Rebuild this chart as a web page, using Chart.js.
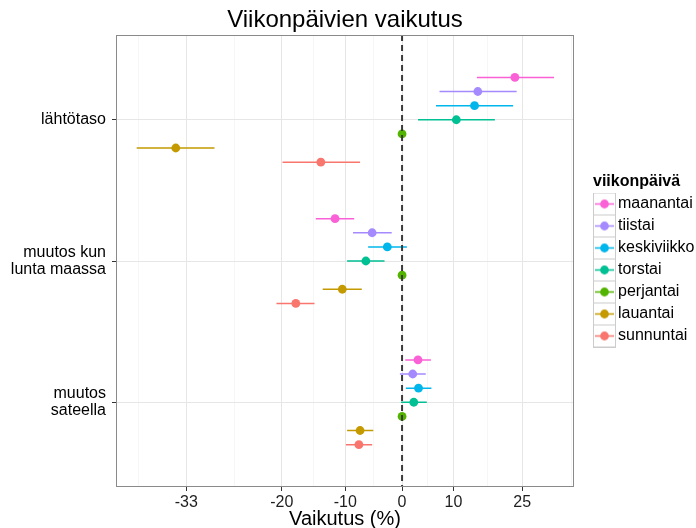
<!DOCTYPE html>
<html><head><meta charset="utf-8">
<script src="https://cdn.jsdelivr.net/npm/chart.js@4.4.1/dist/chart.umd.min.js"></script>
<style>html,body{margin:0;padding:0;background:#fff}#wrap{width:696px;height:528px}</style>
</head><body><div id="wrap"><canvas id="c" width="696" height="528"></canvas></div>
<script>
// ---- data (effects in %) ----
const days = ['maanantai','tiistai','keskiviikko','torstai','perjantai','lauantai','sunnuntai'];
const dayColors = ['#FB61D7','#A58AFF','#00B6EB','#00C094','#53B400','#C49A00','#F8766D'];
const groupLabels = [['lähtötaso'], ['muutos kun','lunta maassa'], ['muutos','sateella']];

const estLahtotaso = [23.3, 15.1, 14.4, 10.6, 0, -34.3, -14.0];
const loLahtotaso  = [14.9, 7.2, 6.5, 3.0, null, -38.9, -19.9];
const hiLahtotaso  = [32.6, 23.7, 22.9, 18.8, null, -29.4, -7.5];

const estLunta = [-11.7, -5.4, -2.7, -6.5, 0, -10.5, -17.9];
const loLunta  = [-14.8, -8.7, -6.1, -9.7, null, -13.7, -20.8];
const hiLunta  = [-8.5, -1.9, 0.9, -3.2, null, -7.2, -15.0];

const estSade = [3.0, 2.0, 3.1, 2.2, 0, -7.5, -7.7];
const loSade  = [0.6, -0.4, 0.7, -0.2, null, -9.7, -9.9];
const hiSade  = [5.5, 4.5, 5.6, 4.7, null, -5.2, -5.4];

const xTickLabels = [-33, -20, -10, 0, 10, 25];
const xBreaksExtended = [-44, -33, -20, -10, 0, 10, 25, 50];
const xLimits = [-41.2, 37.6];

// ---- build ----
const FONT = "'Liberation Sans', Arial, Helvetica, sans-serif";
Chart.defaults.font.family = FONT;
const lr = p => Math.log1p(p / 100);
const est = [estLahtotaso, estLunta, estSade];
const lo = [loLahtotaso, loLunta, loSade];
const hi = [hiLahtotaso, hiLunta, hiSade];
const majorLn = xTickLabels.map(lr);
const extLn = xBreaksExtended.map(lr);
const minorLn = [];
for (let i = 0; i < extLn.length - 1; i++) minorLn.push((extLn[i] + extLn[i + 1]) / 2);
const allXTicks = majorLn.concat(minorLn).sort((a, b) => a - b);
const isMajor = v => majorLn.some(m => Math.abs(m - v) < 1e-9);
const yPos = (g, i) => g + 1 + (i - 3) * 0.1;

const pointSets = days.map((d, i) => ({
  type: 'scatter', label: d, order: 1, yAxisID: 'y', xAxisID: 'x',
  data: est.map((arr, g) => ({ x: lr(arr[i]), y: yPos(g, i) })),
  backgroundColor: dayColors[i], borderColor: dayColors[i], borderWidth: 0,
  pointRadius: 4.4, pointHoverRadius: 4.4, showLine: false
}));
const barSets = days.map((d, i) => {
  const data = [];
  lo.forEach((arr, g) => {
    if (arr[i] == null) return;
    const y = yPos(g, i);
    data.push({ x: lr(arr[i]), y }, { x: lr(hi[g][i]), y }, { x: null, y: null });
  });
  return {
    type: 'scatter', label: d + ' CI', order: 2, yAxisID: 'y', xAxisID: 'x',
    data, showLine: true, spanGaps: false, borderColor: dayColors[i], borderWidth: 1.5,
    pointRadius: 0, pointHoverRadius: 0, fill: false
  };
});
const vline = {
  type: 'scatter', label: 'zero', order: 0, yAxisID: 'y', xAxisID: 'x',
  data: [{ x: 0, y: 0.4 }, { x: 0, y: 3.6 }], showLine: true,
  borderColor: '#3a3a3a', borderWidth: 2, borderDash: [6, 4], pointRadius: 0, pointHoverRadius: 0
};

function keyCanvas(color) {
  const c = document.createElement('canvas');
  c.width = 23; c.height = 23;
  const k = c.getContext('2d');
  k.fillStyle = '#ffffff'; k.fillRect(0, 0, 23, 23);
  k.strokeStyle = '#cccccc'; k.lineWidth = 1; k.strokeRect(0.5, 0.5, 22, 22);
  k.strokeStyle = color; k.lineWidth = 1.5;
  k.beginPath(); k.moveTo(2, 11.5); k.lineTo(21, 11.5); k.stroke();
  k.fillStyle = color; k.beginPath(); k.arc(11.5, 11.5, 4.4, 0, Math.PI * 2); k.fill();
  return c;
}
const keys = dayColors.map(keyCanvas);

const panelBorder = {
  id: 'panelBorder',
  afterDatasetsDraw(chart) {
    const { ctx, chartArea: a } = chart;
    ctx.save();
    ctx.strokeStyle = '#8a8a8a'; ctx.lineWidth = 1;
    const l = Math.round(a.left), t = Math.round(a.top), r = Math.round(a.right), b = Math.round(a.bottom);
    ctx.strokeRect(l + 0.5, t + 0.5, r - l - 1, b - t - 1);
    ctx.restore();
  }
};

new Chart(document.getElementById('c'), {
  type: 'scatter',
  data: { datasets: [vline, ...pointSets, ...barSets] },
  options: {
    responsive: false, animation: false, events: [],
    layout: { padding: 0 },
    scales: {
      x: {
        type: 'linear', min: lr(xLimits[0]), max: lr(xLimits[1]),
        afterBuildTicks: s => { s.ticks = allXTicks.map(v => ({ value: v })); },
        ticks: {
          autoSkip: false, maxRotation: 0, padding: 2, color: '#1e1e1e',
          font: { size: 16, lineHeight: 1.25 },
          callback: v => { const k = majorLn.findIndex(m => Math.abs(m - v) < 1e-9); return k >= 0 ? String(xTickLabels[k]) : ''; }
        },
        grid: {
          color: c => (c.tick && isMajor(c.tick.value)) ? '#e6e6e6' : '#f6f6f6',
          tickLength: 4, tickWidth: 1,
          tickColor: c => (c.tick && isMajor(c.tick.value)) ? '#333333' : 'rgba(0,0,0,0)'
        },
        border: { display: false },
        title: { display: true, text: 'Vaikutus (%)', color: '#000', font: { size: 20, lineHeight: 1 }, padding: { top: 0, bottom: -1 } },
        afterFit: s => { s.height = 41; }
      },
      y: {
        type: 'linear', reverse: true, min: 0.4, max: 3.6,
        afterBuildTicks: s => { s.ticks = groupLabels.map((_, g) => ({ value: g + 1 })); },
        ticks: {
          autoSkip: false, padding: 6, color: '#000',
          font: { size: 16, lineHeight: 1.05 },
          callback: v => groupLabels[Math.round(v) - 1]
        },
        grid: { color: '#e6e6e6', tickLength: 4, tickColor: '#333333' },
        border: { display: false },
        afterFit: s => { s.width = 116; }
      },
      yRight: {
        axis: 'y', type: 'linear', position: 'right', min: 0, max: 1, display: true,
        grid: { display: false, drawTicks: false }, ticks: { display: false }, border: { display: false },
        afterFit: s => { s.width = 19; }
      }
    },
    plugins: {
      tooltip: { enabled: false },
      title: {
        display: true, text: 'Viikonpäivien vaikutus', fullSize: false, color: '#000',
        font: { size: 24, weight: 'normal', lineHeight: 1.2 }, padding: { top: 6.2, bottom: 0 }
      },
      legend: {
        position: 'right', align: 'start', maxWidth: 103, onClick: null,
        title: {
          display: true, text: 'viikonpäivä', position: 'start', color: '#000',
          font: { size: 16, weight: 'bold', lineHeight: 1 }, padding: { top: 174, bottom: 0 }
        },
        labels: {
          usePointStyle: true, pointStyleWidth: 11, boxHeight: 16, padding: 6,
          color: '#000', font: { size: 16 },
          generateLabels: () => days.map((d, i) => ({
            text: d, pointStyle: keys[i], fillStyle: dayColors[i], strokeStyle: dayColors[i],
            lineWidth: 0, hidden: false, datasetIndex: i + 1, fontColor: '#000'
          }))
        }
      }
    }
  },
  plugins: [panelBorder]
});
</script>
</body></html>
